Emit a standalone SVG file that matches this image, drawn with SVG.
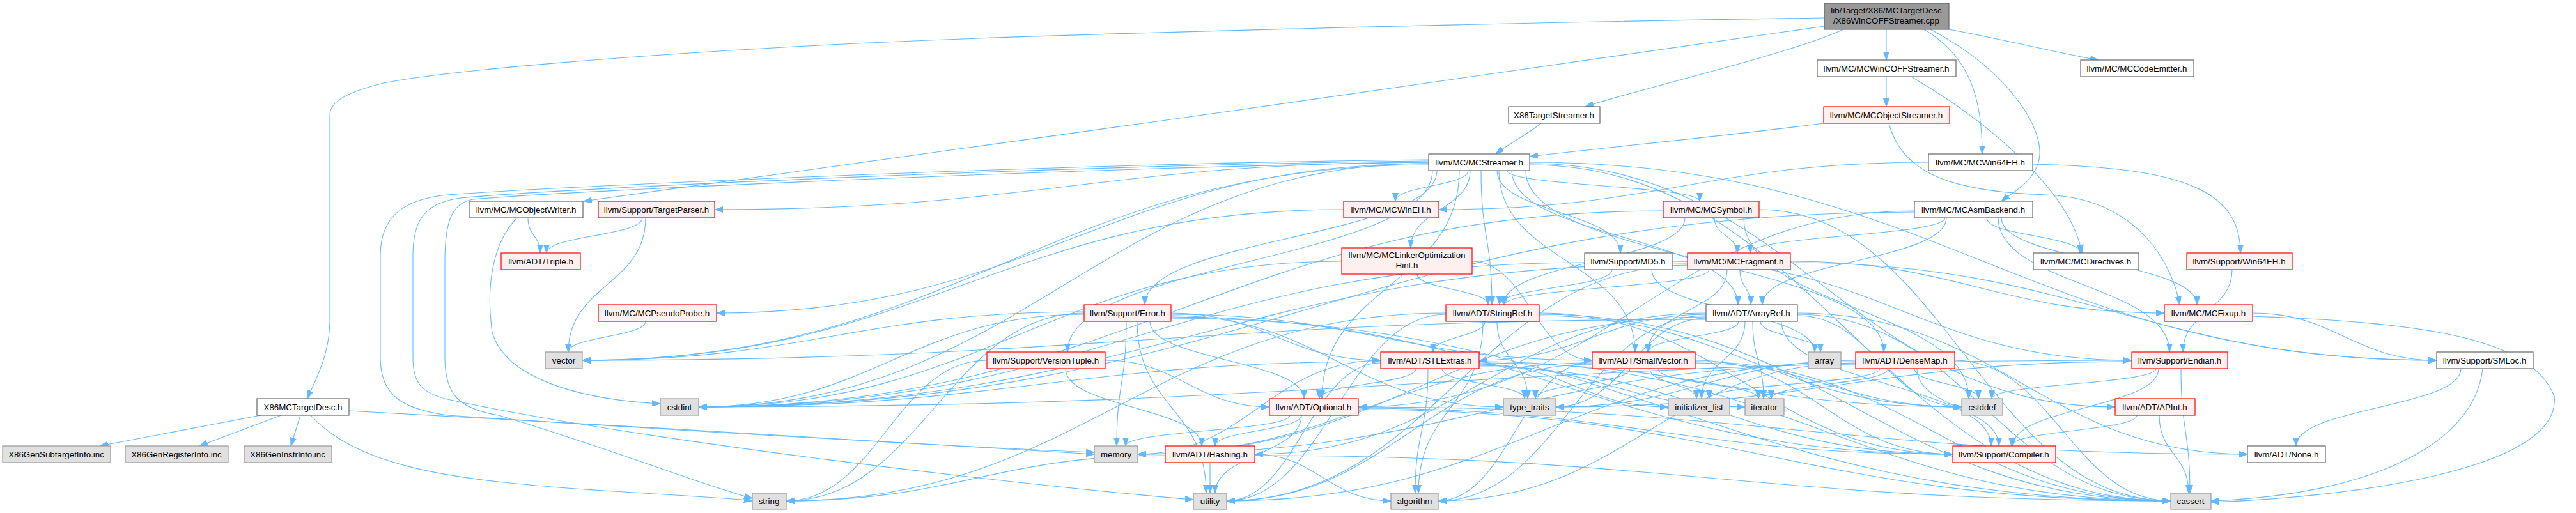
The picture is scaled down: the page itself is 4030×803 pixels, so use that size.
<svg xmlns="http://www.w3.org/2000/svg" width="4030" height="803" viewBox="0 0 4030 803">
<style>
#edges path{fill:none;stroke:#63b8ff;stroke-width:1.1;marker-end:url(#a)}
.nd rect{stroke-width:1.2}
.w rect{fill:#ffffff;stroke:#666666}
.r rect{fill:#fff0f0;stroke:#ff0000}
.g rect{fill:#e0e0e0;stroke:#999999}
.k rect{fill:#999999;stroke:#666666}
text{font-family:"Liberation Sans",Arial,Helvetica,sans-serif;font-size:13.33px;fill:#000;text-anchor:middle}
</style>
<defs>
<marker id="a" markerWidth="13" markerHeight="10" refX="13" refY="5" orient="auto" markerUnits="userSpaceOnUse">
<path d="M0,0.5 L13,5 L0,9.5 z" fill="#63b8ff" stroke="#63b8ff" stroke-width="1"/>
</marker>
</defs>
<rect width="4030" height="803" fill="#ffffff"/>
<g id="edges">
<path d="M2854,28 C2300,36 1600,55 1340,68 C1000,85 700,110 600,130 C540,145 516,160 516,180 L516,500 C516,560 490,600 481,624"/>
<path d="M2854,41 C2400,110 1300,260 913,315"/>
<path d="M2884,46 C2800,85 2560,140 2480,167"/>
<path d="M2951,46 L2951,94"/>
<path d="M3010,46 C3085,90 3101,160 3101,241"/>
<path d="M3020,46 C3140,110 3200,200 3190,250 C3182,285 3150,300 3131,315"/>
<path d="M3049,46 C3150,65 3230,85 3283,94"/>
<path d="M408,650 L156,698"/>
<path d="M440,650 L312,698"/>
<path d="M470,650 L455,698"/>
<path d="M546,643 C900,660 1500,700 1712,711"/>
<path d="M486,650 C560,730 700,750 900,765 C1050,775 1150,780 1177,784"/>
<path d="M2411,193 C2390,210 2360,225 2340,241"/>
<path d="M2951,120 L2951,167"/>
<path d="M2990,120 C3110,190 3240,300 3257,396"/>
<path d="M2853,193 C2700,213 2500,232 2393,245"/>
<path d="M2955,193 C2975,270 3050,300 3200,305 C3350,310 3400,420 3410,477"/>
<path d="M3017,254 C2672,254 2596,328 2251,328"/>
<path d="M3180,257 C3420,262 3505,300 3505,396"/>
<path d="M2297,267 C2297,291 2183,291 2183,315"/>
<path d="M2300,267 C2300,328 2207,328 2207,388"/>
<path d="M2358,267 C2358,291 2659,291 2659,315"/>
<path d="M2342,267 C2342,332 2535,332 2535,396"/>
<path d="M2317,267 C2317,372 2334,372 2334,477"/>
<path d="M2345,267 C2345,409 2558,409 2558,551"/>
<path d="M2235,254 C1732,254 1621,328 1118,328"/>
<path d="M2235,256 C1734,256 1622,490 1121,490"/>
<path d="M2248,267 C2248,372 1791,372 1791,477"/>
<path d="M2241,267 C2241,409 1670,409 1670,551"/>
<path d="M2365,267 C2365,372 2719,372 2719,477"/>
<path d="M2387,267 C2387,409 2947,409 2947,551"/>
<path d="M2283,267 C2283,446 2068,446 2068,624"/>
<path d="M2393,254 C3032,254 3173,564 3812,564"/>
<path d="M2393,256 C2805,256 2897,637 3309,637"/>
<path d="M2393,258 C2844,258 2945,784 3396,784"/>
<path d="M2235,256 C1721,256 1607,637 1093,637"/>
<path d="M2235,250 C1700,255 900,290 700,305 C630,312 595,340 595,400 L595,560 C595,620 630,640 700,650 C1000,670 1500,700 1712,708"/>
<path d="M2235,252 C1700,258 900,293 720,310 C660,318 646,350 646,400 L646,560 C646,600 660,615 700,625 C1000,690 1600,760 1867,782"/>
<path d="M2235,254 C1700,262 900,298 740,312 C705,318 696,350 696,410 L696,560 C696,620 720,640 780,650 C950,700 1100,760 1177,780"/>
<path d="M2235,258 C1639,258 1507,564 911,564"/>
<path d="M1005,341 C1005,369 855,369 855,396"/>
<path d="M1010,341 C1010,446 889,446 889,551"/>
<path d="M826,341 C826,369 845,369 845,396"/>
<path d="M809,341 C770,380 760,450 770,520 C790,590 900,625 1033,632"/>
<path d="M2102,328 C1566,328 1447,564 911,564"/>
<path d="M2682,341 C2682,369 2718,369 2718,396"/>
<path d="M2636,341 C2636,409 2352,409 2352,477"/>
<path d="M2752,328 C3042,328 3106,784 3396,784"/>
<path d="M2728,341 C2728,483 3080,483 3080,624"/>
<path d="M2602,330 C1923,330 1772,637 1093,637"/>
<path d="M3043,341 C3043,369 2738,369 2738,396"/>
<path d="M3108,341 C3108,369 3254,369 3254,396"/>
<path d="M3045,341 C3045,409 2757,409 2757,477"/>
<path d="M3131,341 C3131,409 3437,409 3437,477"/>
<path d="M3126,341 C3126,446 3394,446 3394,551"/>
<path d="M2995,330 C2604,330 2516,637 2125,637"/>
<path d="M2995,332 C2139,332 1949,637 1093,637"/>
<path d="M2217,429 C2217,453 2328,453 2328,477"/>
<path d="M2303,409 C2388,409 2406,564 2491,564"/>
<path d="M2099,409 C1646,409 1546,637 1093,637"/>
<path d="M2522,422 C2522,450 2346,450 2346,477"/>
<path d="M2616,409 C2940,409 3011,564 3335,564"/>
<path d="M2584,422 C2584,487 2839,487 2839,551"/>
<path d="M2479,411 C1855,411 1717,637 1093,637"/>
<path d="M2722,422 C2722,450 2739,450 2739,477"/>
<path d="M2702,422 C2702,487 2578,487 2578,551"/>
<path d="M2674,422 C2674,450 2354,450 2354,477"/>
<path d="M2801,409 C3064,409 3123,490 3386,490"/>
<path d="M2801,411 C3256,411 3357,564 3812,564"/>
<path d="M2640,413 C1944,413 1789,637 1093,637"/>
<path d="M2640,415 C2316,415 2243,784 1919,784"/>
<path d="M3492,422 C3492,487 3415,487 3415,551"/>
<path d="M1010,503 C1010,527 889,527 889,551"/>
<path d="M1832,490 C1980,490 2012,564 2160,564"/>
<path d="M1832,492 C2129,492 2194,564 2491,564"/>
<path d="M1762,503 C1762,600 1747,600 1747,698"/>
<path d="M1779,503 C1779,638 1887,638 1887,772"/>
<path d="M1696,490 C1486,490 1440,784 1230,784"/>
<path d="M1696,488 C1343,488 1264,564 911,564"/>
<path d="M1696,492 C1425,492 1364,637 1093,637"/>
<path d="M1832,494 C2066,494 2118,637 2352,637"/>
<path d="M1832,496 C2382,496 2505,711 3055,711"/>
<path d="M1832,498 C2536,498 2692,784 3396,784"/>
<path d="M1799,503 C1799,564 2040,564 2040,624"/>
<path d="M2323,503 C2323,527 2242,527 2242,551"/>
<path d="M2342,503 C2342,564 2390,564 2390,624"/>
<path d="M2408,490 C2699,490 2764,711 3055,711"/>
<path d="M2320,503 C2320,638 2219,638 2219,772"/>
<path d="M2408,492 C2853,492 2951,784 3396,784"/>
<path d="M2408,494 C2705,494 2772,637 3069,637"/>
<path d="M2262,490 C1798,490 1694,784 1230,784"/>
<path d="M2262,492 C2108,492 2073,784 1919,784"/>
<path d="M2669,490 C2351,490 2281,711 1963,711"/>
<path d="M2812,490 C3129,490 3199,711 3516,711"/>
<path d="M2720,503 C2720,527 2579,527 2579,551"/>
<path d="M2669,492 C2509,492 2474,564 2314,564"/>
<path d="M2787,503 C2787,601 3115,601 3115,698"/>
<path d="M2669,494 C2480,494 2439,784 2250,784"/>
<path d="M2754,503 C2754,527 2848,527 2848,551"/>
<path d="M2812,492 C3075,492 3133,784 3396,784"/>
<path d="M2812,494 C2928,494 2953,637 3069,637"/>
<path d="M2730,503 C2730,564 2662,564 2662,624"/>
<path d="M2742,503 C2742,564 2759,564 2759,624"/>
<path d="M2669,496 C2269,496 2180,711 1780,711"/>
<path d="M2669,498 C2563,498 2540,637 2434,637"/>
<path d="M2669,500 C1878,500 1702,564 911,564"/>
<path d="M3524,490 C3654,490 3682,564 3812,564"/>
<path d="M3524,495 C3800,505 3960,530 3996,620 C4010,740 3650,780 3459,786"/>
<path d="M1667,577 C1667,638 1880,638 1880,698"/>
<path d="M1729,564 C1845,564 1870,637 1986,637"/>
<path d="M1544,564 C1403,564 1371,784 1230,784"/>
<path d="M2215,577 C2215,601 2064,601 2064,624"/>
<path d="M2234,577 C2234,675 2214,675 2214,772"/>
<path d="M2256,577 C2256,601 2385,601 2385,624"/>
<path d="M2160,564 C1989,564 1951,711 1780,711"/>
<path d="M2314,566 C2801,566 2909,784 3396,784"/>
<path d="M2314,568 C2654,568 2729,637 3069,637"/>
<path d="M2160,566 C1680,566 1573,637 1093,637"/>
<path d="M2314,570 C2447,570 2477,637 2610,637"/>
<path d="M2314,572 C2501,572 2543,637 2730,637"/>
<path d="M2160,568 C2052,568 2027,784 1919,784"/>
<path d="M2314,574 C2647,574 2722,711 3055,711"/>
<path d="M2550,577 C2550,601 2402,601 2402,624"/>
<path d="M2581,577 C2581,601 2654,601 2654,624"/>
<path d="M2491,566 C2383,566 2358,784 2250,784"/>
<path d="M2491,568 C2171,568 2100,711 1780,711"/>
<path d="M2652,564 C2833,564 2874,711 3055,711"/>
<path d="M2652,566 C2987,566 3061,784 3396,784"/>
<path d="M2652,568 C2840,568 2881,637 3069,637"/>
<path d="M2594,577 C2594,601 2751,601 2751,624"/>
<path d="M2491,570 C2234,570 2176,784 1919,784"/>
<path d="M2995,577 C2995,601 3095,601 3095,624"/>
<path d="M2999,577 C2999,638 3127,638 3127,698"/>
<path d="M2954,577 C2954,601 2771,601 2771,624"/>
<path d="M2941,577 C2941,601 2674,601 2674,624"/>
<path d="M2903,564 C2692,564 2645,637 2434,637"/>
<path d="M2903,566 C2460,566 2362,784 1919,784"/>
<path d="M3058,564 C3210,564 3244,784 3396,784"/>
<path d="M2903,568 C2609,568 2544,784 2250,784"/>
<path d="M2903,570 C2398,570 2285,711 1780,711"/>
<path d="M3377,577 C3377,638 3149,638 3149,698"/>
<path d="M3412,577 C3412,675 3426,675 3426,772"/>
<path d="M3373,577 C3373,601 3116,601 3116,624"/>
<path d="M3335,564 C2326,564 2102,637 1093,637"/>
<path d="M3335,566 C2930,566 2839,637 2434,637"/>
<path d="M3850,577 C3850,638 3592,638 3592,698"/>
<path d="M3884,577 C3870,700 3700,775 3459,784"/>
<path d="M2036,650 C2036,674 1901,674 1901,698"/>
<path d="M2125,637 C2751,637 2890,711 3516,711"/>
<path d="M2125,639 C2544,639 2636,711 3055,711"/>
<path d="M2125,641 C2697,641 2824,784 3396,784"/>
<path d="M2018,650 C2018,674 1761,674 1761,698"/>
<path d="M2036,650 C2036,711 1901,711 1901,772"/>
<path d="M3343,650 C3343,674 3147,674 3147,698"/>
<path d="M3378,650 C3378,711 3424,711 3424,772"/>
<path d="M1893,724 L1893,772"/>
<path d="M1823,713 C1556,713 1497,784 1230,784"/>
<path d="M1963,711 C2059,711 2080,784 2176,784"/>
<path d="M1963,713 C2608,713 2751,784 3396,784"/>
</g>
<g id="nodes">
<g id="n_root" class="nd k"><rect x="2854" y="5" width="195" height="41"/><text x="2951" y="21">lib/Target/X86/MCTargetDesc</text><text x="2951" y="37">/X86WinCOFFStreamer.cpp</text></g>
<g id="n_wcs" class="nd w"><rect x="2843" y="94" width="217" height="26"/><text x="2951" y="112">llvm/MC/MCWinCOFFStreamer.h</text></g>
<g id="n_ce" class="nd w"><rect x="3255" y="94" width="177" height="26"/><text x="3343" y="112">llvm/MC/MCCodeEmitter.h</text></g>
<g id="n_xts" class="nd w"><rect x="2360" y="167" width="143" height="26"/><text x="2431" y="185">X86TargetStreamer.h</text></g>
<g id="n_os" class="nd r"><rect x="2853" y="167" width="197" height="26"/><text x="2951" y="185">llvm/MC/MCObjectStreamer.h</text></g>
<g id="n_st" class="nd w"><rect x="2235" y="241" width="158" height="26"/><text x="2314" y="259">llvm/MC/MCStreamer.h</text></g>
<g id="n_w64" class="nd w"><rect x="3017" y="241" width="163" height="26"/><text x="3098" y="259">llvm/MC/MCWin64EH.h</text></g>
<g id="n_ow" class="nd w"><rect x="735" y="315" width="177" height="26"/><text x="823" y="333">llvm/MC/MCObjectWriter.h</text></g>
<g id="n_tp" class="nd r"><rect x="936" y="315" width="182" height="26"/><text x="1027" y="333">llvm/Support/TargetParser.h</text></g>
<g id="n_weh" class="nd r"><rect x="2102" y="315" width="149" height="26"/><text x="2176" y="333">llvm/MC/MCWinEH.h</text></g>
<g id="n_sym" class="nd r"><rect x="2602" y="315" width="150" height="26"/><text x="2677" y="333">llvm/MC/MCSymbol.h</text></g>
<g id="n_ab" class="nd w"><rect x="2995" y="315" width="185" height="26"/><text x="3087" y="333">llvm/MC/MCAsmBackend.h</text></g>
<g id="n_tr" class="nd r"><rect x="784" y="396" width="124" height="26"/><text x="846" y="414">llvm/ADT/Triple.h</text></g>
<g id="n_loh" class="nd r"><rect x="2099" y="388" width="204" height="41"/><text x="2201" y="404">llvm/MC/MCLinkerOptimization</text><text x="2201" y="420">Hint.h</text></g>
<g id="n_md5" class="nd w"><rect x="2479" y="396" width="137" height="26"/><text x="2547" y="414">llvm/Support/MD5.h</text></g>
<g id="n_fr" class="nd r"><rect x="2640" y="396" width="161" height="26"/><text x="2720" y="414">llvm/MC/MCFragment.h</text></g>
<g id="n_dir" class="nd w"><rect x="3181" y="396" width="165" height="26"/><text x="3263" y="414">llvm/MC/MCDirectives.h</text></g>
<g id="n_sw64" class="nd r"><rect x="3421" y="396" width="165" height="26"/><text x="3503" y="414">llvm/Support/Win64EH.h</text></g>
<g id="n_pp" class="nd r"><rect x="936" y="477" width="185" height="26"/><text x="1028" y="495">llvm/MC/MCPseudoProbe.h</text></g>
<g id="n_err" class="nd r"><rect x="1696" y="477" width="136" height="26"/><text x="1764" y="495">llvm/Support/Error.h</text></g>
<g id="n_sr" class="nd r"><rect x="2262" y="477" width="146" height="26"/><text x="2335" y="495">llvm/ADT/StringRef.h</text></g>
<g id="n_ar" class="nd w"><rect x="2669" y="477" width="143" height="26"/><text x="2740" y="495">llvm/ADT/ArrayRef.h</text></g>
<g id="n_fx" class="nd r"><rect x="3386" y="477" width="138" height="26"/><text x="3455" y="495">llvm/MC/MCFixup.h</text></g>
<g id="n_vec" class="nd g"><rect x="853" y="551" width="58" height="26"/><text x="882" y="569">vector</text></g>
<g id="n_vt" class="nd r"><rect x="1544" y="551" width="185" height="26"/><text x="1636" y="569">llvm/Support/VersionTuple.h</text></g>
<g id="n_stl" class="nd r"><rect x="2160" y="551" width="154" height="26"/><text x="2237" y="569">llvm/ADT/STLExtras.h</text></g>
<g id="n_sv" class="nd r"><rect x="2491" y="551" width="161" height="26"/><text x="2571" y="569">llvm/ADT/SmallVector.h</text></g>
<g id="n_arr" class="nd g"><rect x="2829" y="551" width="51" height="26"/><text x="2854" y="569">array</text></g>
<g id="n_dm" class="nd r"><rect x="2903" y="551" width="155" height="26"/><text x="2980" y="569">llvm/ADT/DenseMap.h</text></g>
<g id="n_en" class="nd r"><rect x="3335" y="551" width="150" height="26"/><text x="3410" y="569">llvm/Support/Endian.h</text></g>
<g id="n_sm" class="nd w"><rect x="3812" y="551" width="151" height="26"/><text x="3887" y="569">llvm/Support/SMLoc.h</text></g>
<g id="n_xmd" class="nd w"><rect x="402" y="624" width="144" height="26"/><text x="474" y="642">X86MCTargetDesc.h</text></g>
<g id="n_ci" class="nd g"><rect x="1033" y="624" width="60" height="26"/><text x="1063" y="642">cstdint</text></g>
<g id="n_opt" class="nd r"><rect x="1986" y="624" width="139" height="26"/><text x="2055" y="642">llvm/ADT/Optional.h</text></g>
<g id="n_tt" class="nd g"><rect x="2352" y="624" width="82" height="26"/><text x="2393" y="642">type_traits</text></g>
<g id="n_il" class="nd g"><rect x="2610" y="624" width="96" height="26"/><text x="2658" y="642">initializer_list</text></g>
<g id="n_it" class="nd g"><rect x="2730" y="624" width="61" height="26"/><text x="2760" y="642">iterator</text></g>
<g id="n_cd" class="nd g"><rect x="3069" y="624" width="64" height="26"/><text x="3101" y="642">cstddef</text></g>
<g id="n_api" class="nd r"><rect x="3309" y="624" width="125" height="26"/><text x="3371" y="642">llvm/ADT/APInt.h</text></g>
<g id="n_gsi" class="nd g"><rect x="4" y="698" width="169" height="26"/><text x="88" y="716">X86GenSubtargetInfo.inc</text></g>
<g id="n_gri" class="nd g"><rect x="196" y="698" width="161" height="26"/><text x="276" y="716">X86GenRegisterInfo.inc</text></g>
<g id="n_gii" class="nd g"><rect x="382" y="698" width="137" height="26"/><text x="450" y="716">X86GenInstrInfo.inc</text></g>
<g id="n_mem" class="nd g"><rect x="1712" y="698" width="68" height="26"/><text x="1746" y="716">memory</text></g>
<g id="n_hs" class="nd r"><rect x="1823" y="698" width="140" height="26"/><text x="1893" y="716">llvm/ADT/Hashing.h</text></g>
<g id="n_cmp" class="nd r"><rect x="3055" y="698" width="161" height="26"/><text x="3135" y="716">llvm/Support/Compiler.h</text></g>
<g id="n_none" class="nd w"><rect x="3516" y="698" width="122" height="26"/><text x="3577" y="716">llvm/ADT/None.h</text></g>
<g id="n_str" class="nd g"><rect x="1177" y="772" width="53" height="25"/><text x="1203" y="789">string</text></g>
<g id="n_ut" class="nd g"><rect x="1867" y="772" width="52" height="25"/><text x="1893" y="789">utility</text></g>
<g id="n_alg" class="nd g"><rect x="2176" y="772" width="74" height="25"/><text x="2213" y="789">algorithm</text></g>
<g id="n_ca" class="nd g"><rect x="3396" y="772" width="63" height="25"/><text x="3427" y="789">cassert</text></g>
</g>
</svg>
